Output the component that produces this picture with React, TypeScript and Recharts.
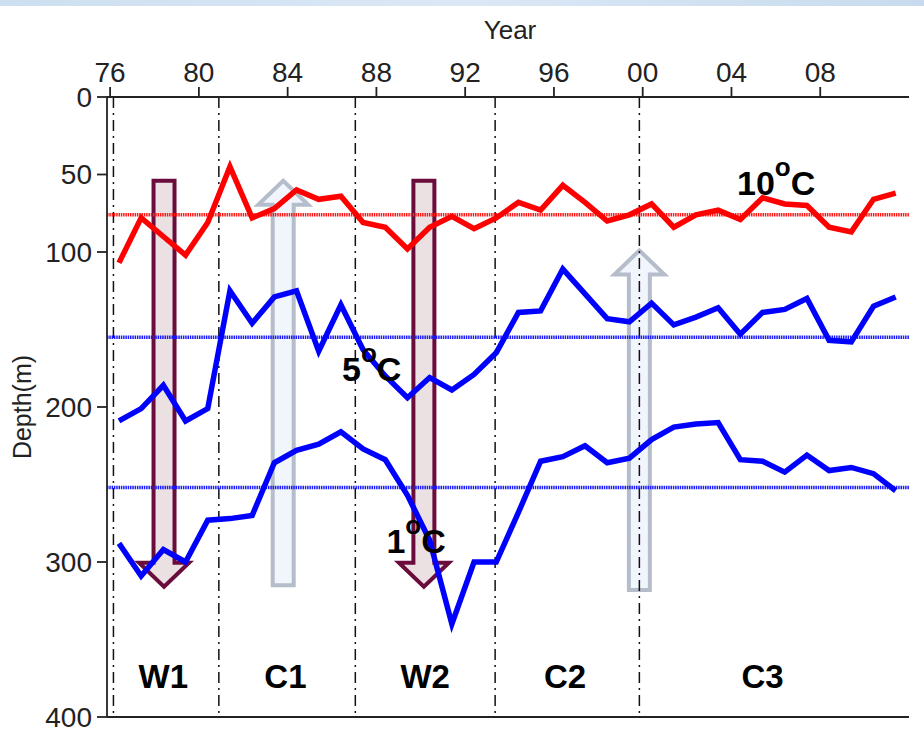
import React from "react"
import {
    LineChart, Line, XAxis, YAxis, ReferenceLine, ReferenceArea, ReferenceDot, Label,
} from "recharts"

// survey years and isotherm depths (m)
const years = [
    1976, 1977, 1978, 1979, 1980, 1981, 1982, 1983, 1984, 1985, 1986, 1987,
    1988, 1989, 1990, 1991, 1992, 1993, 1994, 1995, 1996, 1997, 1998, 1999,
    2000, 2001, 2002, 2003, 2004, 2005, 2006, 2007, 2008, 2009, 2010, 2011,
]
const depth10 = [
    107, 78, 90, 102, 81, 45, 78, 72, 60, 66, 64, 81,
    84, 98, 84, 77, 85, 78, 68, 73, 57, 68, 80, 76,
    69, 84, 76, 73, 79, 65, 69, 70, 84, 87, 66, 62,
]
const depth5 = [
    209, 201, 186, 209, 201, 125, 146, 129, 125, 164, 134, 163,
    180, 194, 181, 189, 179, 165, 139, 138, 111, 127, 143, 145,
    133, 147, 142, 136, 153, 139, 137, 130, 157, 158, 135, 129,
]
const depth1 = [
    288, 309, 292, 300, 273, 272, 270, 236, 228, 224, 216, 227,
    234, 257, 286, 340, 300, 300, 268, 235, 232, 225, 236, 233,
    221, 213, 211, 210, 234, 235, 242, 231, 241, 239, 243, 254,
]
// long-term mean depth of each isotherm
const mean10 = 76
const mean5 = 155
const mean1 = 252

const yearTicks = [1976, 1980, 1984, 1988, 1992, 1996, 2000, 2004, 2008]
const depthTicks = [0, 50, 100, 200, 300, 400]

// regime boundaries and names
const breaks = [1976.15, 1980.9, 1987.05, 1993.35, 1999.85]
const periodNames = ["W1", "C1", "W2", "C2", "C3"]
const periodYears = [1978.4, 1983.9, 1990.2, 1996.5, 2005.4]
const periodDepth = 381

// isotherm captions
const isoNames = ["10", "5", "1"]
const isoYears = [2004.25, 1986.45, 1988.45]
const isoDepths = [63, 183, 294]

// trend arrows: warm periods deepen, cold periods shoal
const arrowYears = [1978.43, 1983.8, 1990.14, 1999.85]
const arrowFrom = [54, 315, 54, 318]
const arrowTo = [316, 54, 316, 99]
const arrowKinds = ["warm", "cold", "warm", "cold"]

const rows = years.map((y, i) => ({
    x: y + 0.4,
    d10: depth10[i],
    d5: depth5[i],
    d1: depth1[i],
}))

const X_DOMAIN: [number, number] = [1975.86, 2012]
const FONT = "'Liberation Sans', Arial, sans-serif"

function makeArrow(kind: string, down: boolean) {
    return (p: any) => {
        const cx = p.x + p.width / 2
        const top = p.y
        const bot = p.y + p.height
        const sw = 10.5
        const hw = 25
        const hl = 24
        let pts: number[][]
        if (down) {
            const hb = bot - hl
            pts = [[cx - sw, top], [cx + sw, top], [cx + sw, hb], [cx + hw, hb], [cx, bot], [cx - hw, hb], [cx - sw, hb]]
        } else {
            const hb = top + hl
            pts = [[cx - sw, bot], [cx - sw, hb], [cx - hw, hb], [cx, top], [cx + hw, hb], [cx + sw, hb], [cx + sw, bot]]
        }
        const warm = kind === "warm"
        return (
            <polygon
                points={pts.map((q) => q.join(",")).join(" ")}
                fill={warm ? "#e6dadd" : "#eef3fb"}
                fillOpacity={0.82}
                stroke={warm ? "#6b0d3c" : "#b5bdcb"}
                strokeWidth={4}
                strokeLinejoin="miter"
            />
        )
    }
}

const DepthLabel = (props: any) => {
    const vb = props.viewBox || { x: 0, y: 97, width: 107, height: 620 }
    const x = vb.x + 31
    const y = vb.y + vb.height / 2
    return (
        <text x={x} y={y} transform={`rotate(-90 ${x} ${y})`} textAnchor="middle"
            fontSize={25} fontFamily={FONT} fill="#222">
            Depth(m)
        </text>
    )
}

const YearLabel = (props: any) => {
    const vb = props.viewBox || { x: 107, y: 0, width: 802, height: 97 }
    return (
        <text x={vb.x + vb.width / 2 + 2} y={39} textAnchor="middle"
            fontSize={26} fontFamily={FONT} fill="#222">
            Year
        </text>
    )
}

export default function App() {
    const axisStroke = "#222"
    return (
        <div style={{ position: "absolute", left: 0, top: 0, width: 924, height: 742, background: "#fff" }}>
            <div style={{
                position: "absolute", left: 0, top: 0, width: 924, height: 6,
                background: "linear-gradient(90deg, #cddff0, #dbe8f5 50%, #c8dbee)",
            }} />
            <LineChart width={924} height={742} data={rows} margin={{ top: 0, right: 15, bottom: 0, left: 0 }}>
                <XAxis
                    xAxisId="top"
                    orientation="top"
                    type="number"
                    dataKey="x"
                    domain={X_DOMAIN}
                    allowDataOverflow
                    ticks={yearTicks}
                    tickFormatter={(v: number) => String(v % 100).padStart(2, "0")}
                    height={97}
                    tickSize={10}
                    tickMargin={5}
                    stroke={axisStroke}
                    strokeWidth={1.8}
                    tick={{ fontSize: 28, fill: "#222", fontFamily: FONT }}
                >
                    <Label content={YearLabel} />
                </XAxis>
                <XAxis
                    xAxisId="bottom"
                    orientation="bottom"
                    type="number"
                    dataKey="x"
                    domain={X_DOMAIN}
                    allowDataOverflow
                    ticks={yearTicks}
                    height={25}
                    tickSize={10}
                    tick={false}
                    stroke={axisStroke}
                    strokeWidth={1.8}
                />
                <YAxis
                    yAxisId="left"
                    orientation="left"
                    type="number"
                    domain={[0, 400]}
                    reversed
                    ticks={depthTicks}
                    width={107}
                    tickSize={10}
                    tickMargin={5}
                    stroke={axisStroke}
                    strokeWidth={1.8}
                    tick={{ fontSize: 28, fill: "#222", fontFamily: FONT }}
                >
                    <Label content={DepthLabel} />
                </YAxis>
                <YAxis
                    yAxisId="right"
                    orientation="right"
                    type="number"
                    domain={[0, 400]}
                    reversed
                    ticks={depthTicks}
                    width={0}
                    mirror
                    tickSize={8}
                    tick={false}
                    stroke={axisStroke}
                    strokeWidth={1.8}
                />

                {breaks.map((b) => (
                    <ReferenceLine key={`b${b}`} xAxisId="top" yAxisId="left" x={b}
                        stroke="#111" strokeWidth={1.5} strokeDasharray="11 5 2 5" />
                ))}

                <ReferenceLine xAxisId="top" yAxisId="left" y={mean10} stroke="#ff1a1a" strokeWidth={3.5} strokeDasharray="1.5 0.8" />
                <ReferenceLine xAxisId="top" yAxisId="left" y={mean5} stroke="#1a1aff" strokeWidth={3.5} strokeDasharray="1.5 0.8" />
                <ReferenceLine xAxisId="top" yAxisId="left" y={mean1} stroke="#1a1aff" strokeWidth={3.5} strokeDasharray="1.5 0.8" />

                <Line xAxisId="top" yAxisId="left" dataKey="d10" stroke="#ff0000" strokeWidth={5.5} dot={false} isAnimationActive={false} />
                <Line xAxisId="top" yAxisId="left" dataKey="d5" stroke="#0000ff" strokeWidth={5.5} dot={false} isAnimationActive={false} />
                <Line xAxisId="top" yAxisId="left" dataKey="d1" stroke="#0000ff" strokeWidth={5.5} dot={false} isAnimationActive={false} />

                {arrowYears.map((y, i) => {
                    const down = arrowTo[i] > arrowFrom[i]
                    return (
                        <ReferenceArea
                            key={`a${i}`}
                            xAxisId="top"
                            yAxisId="left"
                            x1={y - 0.5}
                            x2={y + 0.5}
                            y1={arrowFrom[i]}
                            y2={arrowTo[i]}
                            shape={makeArrow(arrowKinds[i], down)}
                        />
                    )
                })}

                {isoNames.map((n, i) => (
                    <ReferenceDot
                        key={`iso${n}`}
                        xAxisId="top"
                        yAxisId="left"
                        x={isoYears[i]}
                        y={isoDepths[i]}
                        r={0}
                        shape={(p: any) => (
                            <text x={p.cx} y={p.cy} fontSize={34} fontWeight="bold" fontFamily={FONT} fill="#000">
                                {n}
                                <tspan fontSize={26} dy={-19}>o</tspan>
                                <tspan fontSize={34} dy={19}>C</tspan>
                            </text>
                        )}
                    />
                ))}

                {periodNames.map((n, i) => (
                    <ReferenceDot
                        key={`p${n}`}
                        xAxisId="top"
                        yAxisId="left"
                        x={periodYears[i]}
                        y={periodDepth}
                        r={0}
                        shape={(p: any) => (
                            <text x={p.cx} y={p.cy} textAnchor="middle" fontSize={33} fontWeight="bold" fontFamily={FONT} fill="#000">
                                {n}
                            </text>
                        )}
                    />
                ))}
            </LineChart>
        </div>
    )
}
